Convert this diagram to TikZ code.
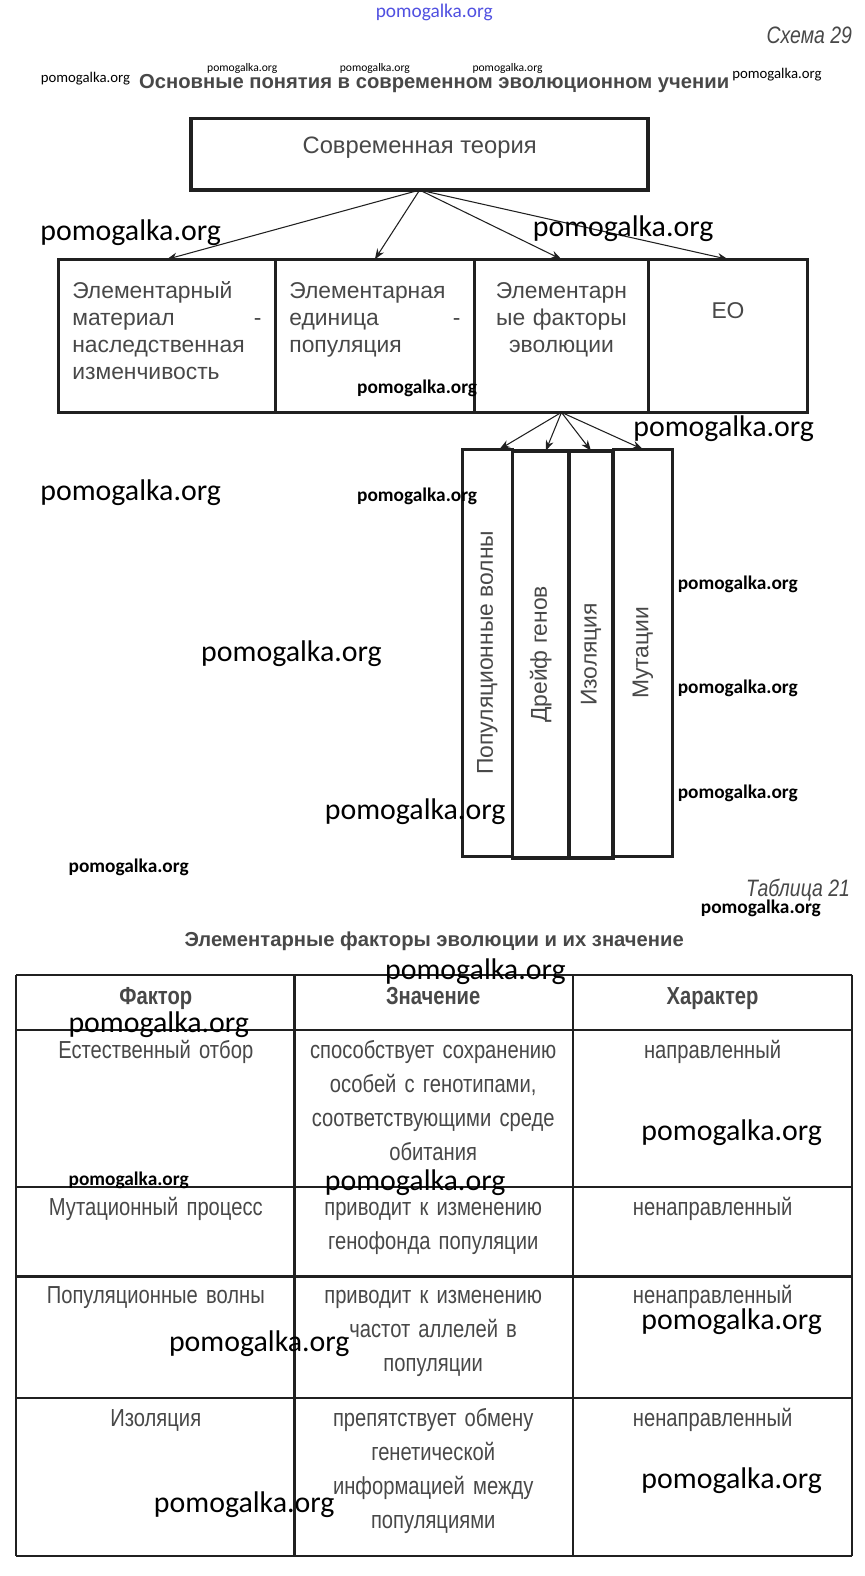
\documentclass[tikz,border=0pt]{standalone}
\usepackage{fontspec}
\setmainfont{Liberation Sans}
\newfontfamily\condfont{Liberation Sans}[FakeStretch=0.82]
\newfontfamily\wmfont{Carlito}
\usetikzlibrary{positioning, arrows.meta}
\definecolor{InkGray}{RGB}{72,72,72}
\definecolor{FrameBlack}{RGB}{32,32,32}
\definecolor{MarkBlue}{RGB}{80,80,225}
\tikzset{
  frame/.style={draw=FrameBlack, line width=2pt, outer sep=0pt, text=InkGray},
  topbox/.style={frame, minimum width=9.14cm, minimum height=1.43cm, inner sep=0pt,
    text depth=0.35cm, font=\fontsize{13.5}{16}\selectfont},
  rowbox/.style={frame, inner xsep=0.28cm, inner ysep=0pt, text height=0.78cm, text depth=2.28cm,
    font=\fontsize{13}{15.3}\selectfont},
  vbox/.style={frame, rotate=90, minimum width=8.14cm, inner sep=0pt, font=\fontsize{13}{16}\selectfont},
  arr/.style={-{Stealth[length=6pt, width=4.5pt]}, line width=0.6pt, FrameBlack},
  grid/.style={line width=1.3pt, FrameBlack},
  cell/.style={anchor=base, inner sep=0pt, text width=5.2cm, align=center, text=InkGray,
    font=\condfont\fontsize{14}{19.3}\selectfont},
  headcell/.style={cell, font=\condfont\bfseries\fontsize{14}{16}\selectfont},
  heading/.style={inner sep=0pt, text=InkGray, font=\bfseries\fontsize{11.5}{14}\selectfont},
  tag/.style={inner sep=0pt, text=InkGray, font=\condfont\itshape\fontsize{13.5}{15}\selectfont},
  wmbig/.style={inner sep=0pt, font=\wmfont\fontsize{17}{17}\selectfont},
  wmsmall/.style={inner sep=0pt, font=\wmfont\bfseries\fontsize{11}{11}\selectfont},
  wmmid/.style={inner sep=0pt, font=\wmfont\fontsize{8.4}{8.4}\selectfont},
  wmtiny/.style={inner sep=0pt, font=\wmfont\fontsize{6.6}{6.6}\selectfont},
}
\begin{document}
\begin{tikzpicture}[x=0.020093cm, y=-0.020102cm]
  \fill[white] (0,0) rectangle (860,1568);
  \useasboundingbox (0,0) rectangle (860,1568);

  % scheme 29
  \node[inner sep=0pt, text=MarkBlue, font=\wmfont\fontsize{11}{11}\selectfont] (sitemark) at (432,12) {pomogalka.org};
  \node[tag, anchor=east] (schemetag) at (848,35) {Схема 29};
  \node[heading] (schemetitle) at (432,83) {Основные понятия в современном эволюционном учении};

  \node[topbox] (theory) at (417.5,153.5) {Современная теория};

  \node[rowbox, text width=3.78cm, align=left, anchor=north west] (elmat) at (58,258)
    {Элементарный\\ материал\hfill-\\ наследственная\\ изменчивость};
  \node[rowbox, text width=3.42cm, align=left, right=0pt of elmat] (elunit)
    {Элементарная\\ единица\hfill-\\ популяция};
  \node[rowbox, text width=2.92cm, align=center, right=0pt of elunit] (factors)
    {Элементарн\\ ые факторы\\ эволюции};
  \node[rowbox, text width=2.62cm, align=center, text height=1.18cm, text depth=1.88cm,
    right=0pt of factors] (eo) {ЕО};

  \draw[arr] (theory.south) -- (elmat.north);
  \draw[arr] (theory.south) -- (elunit.north);
  \draw[arr] (theory.south) -- (factors.north);
  \draw[arr] (theory.south) -- (eo.north);

  \node[vbox, minimum height=1.0cm] (popwave) at (485,649.5) {Популяционные волны};
  \node[vbox, minimum height=1.12cm] (drift) at (538,651) {Дрейф генов};
  \node[vbox, minimum height=0.88cm] (isol) at (588,651) {Изоляция};
  \node[vbox, minimum height=1.18cm] (mutat) at (639.5,649.5) {Мутации};

  \draw[arr] (factors.south) -- ([xshift=0.24cm]popwave.east);
  \draw[arr] (factors.south) -- ([xshift=0.1cm]drift.east);
  \draw[arr] (factors.south) -- (isol.east);
  \draw[arr] (factors.south) -- (mutat.east);

  % table 21
  \node[tag, anchor=east] (tabletag) at (846,886) {Таблица 21};
  \node[heading] (tabletitle) at (432,936) {Элементарные факторы эволюции и их значение};

  \foreach \x in {16,293,570,848} \draw[grid] (\x,970) -- (\x,1548);
  \foreach \y in {970,1025,1181,1270,1391,1548} \draw[grid] (16,\y) -- (848,\y);

  \node[headcell] (hfactor) at (155,999) {Фактор};
  \node[headcell] (hmeaning) at (431,999) {Значение};
  \node[headcell] (hkind) at (709,999) {Характер};

  \node[cell] (fsel) at (155,1053) {Естественный отбор};
  \node[cell] (msel) at (431,1053) {способствует сохранению\\ особей с генотипами,\\ соответствующими среде\\ обитания};
  \node[cell] (ksel) at (709,1053) {направленный};

  \node[cell] (fmut) at (155,1209) {Мутационный процесс};
  \node[cell] (mmut) at (431,1209) {приводит к изменению\\ генофонда популяции};
  \node[cell] (kmut) at (709,1209) {ненаправленный};

  \node[cell] (fwave) at (155,1297) {Популяционные волны};
  \node[cell] (mwave) at (431,1297) {приводит к изменению\\ частот аллелей в\\ популяции};
  \node[cell] (kwave) at (709,1297) {ненаправленный};

  \node[cell] (fiso) at (155,1419) {Изоляция};
  \node[cell] (miso) at (431,1419) {препятствует обмену\\ генетической\\ информацией между\\ популяциями};
  \node[cell] (kiso) at (709,1419) {ненаправленный};

  % watermarks
  \foreach \p [count=\i] in {(130,232),(620,228),(720,427),(130,490),(290,650),(413,808),
      (473,967),(158,1019),(728,1127),(413,1177),(728,1315),(258,1337),(728,1473),(243,1497)}
    \node[wmbig] (wmbig\i) at \p {pomogalka.org};
  \foreach \p [count=\i] in {(415,386),(415,494),(734,581),(734,685),(734,789),(128,863),
      (757,904),(128,1174)}
    \node[wmsmall] (wmsmall\i) at \p {pomogalka.org};
  \foreach \p [count=\i] in {(241,68),(373,68),(505,68)}
    \node[wmtiny] (wmtiny\i) at \p {pomogalka.org};
  \node[wmmid] (wmleft) at (85,78) {pomogalka.org};
  \node[wmmid] (wmright) at (773,74) {pomogalka.org};
\end{tikzpicture}
\end{document}
